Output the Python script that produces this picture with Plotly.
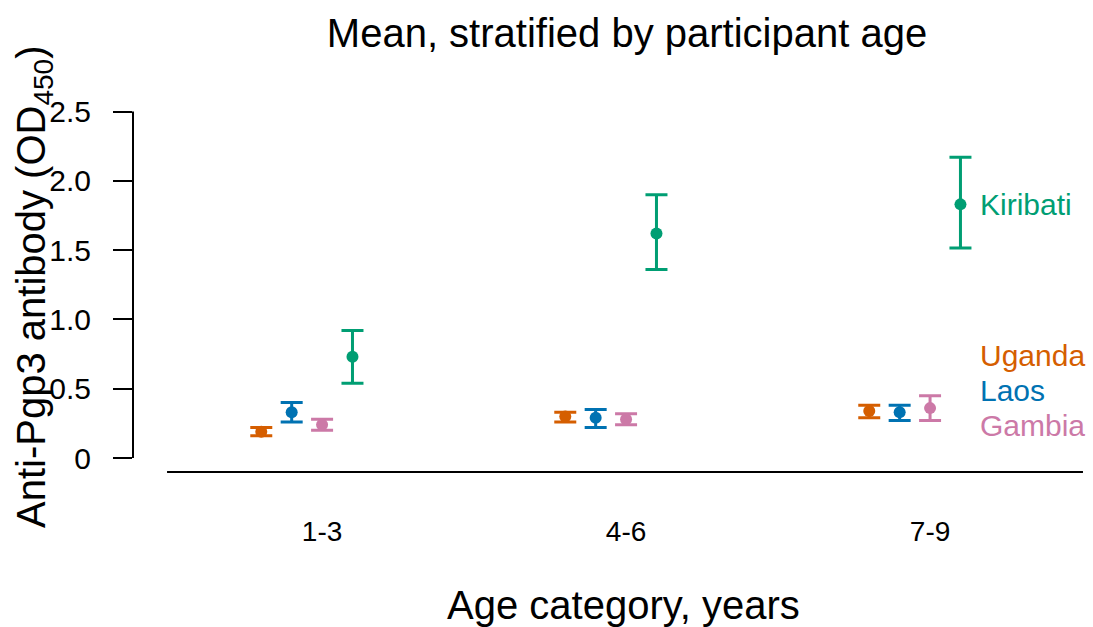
import plotly.graph_objects as go

# ---- data ----
age_groups = ["1-3", "4-6", "7-9"]
countries = ["Uganda", "Laos", "Gambia", "Kiribati"]

uganda_mean = [0.19, 0.30, 0.34]
uganda_lo = [0.16, 0.26, 0.29]
uganda_hi = [0.22, 0.33, 0.38]

laos_mean = [0.33, 0.29, 0.33]
laos_lo = [0.26, 0.22, 0.27]
laos_hi = [0.40, 0.35, 0.38]

gambia_mean = [0.24, 0.28, 0.36]
gambia_lo = [0.20, 0.24, 0.27]
gambia_hi = [0.28, 0.32, 0.45]

kiribati_mean = [0.73, 1.62, 1.83]
kiribati_lo = [0.54, 1.36, 1.515]
kiribati_hi = [0.92, 1.90, 2.17]

y_ticks = [0, 0.5, 1.0, 1.5, 2.0, 2.5]
y_tick_labels = ["0", "0.5", "1.0", "1.5", "2.0", "2.5"]

# ---- styling ----
colors = {"Uganda": "#D55E00", "Laos": "#0072B2", "Gambia": "#CC79A7", "Kiribati": "#009E73"}
offsets = {"Uganda": -0.2, "Laos": -0.1, "Gambia": 0.0, "Kiribati": 0.1}
series = {
    "Uganda": (uganda_mean, uganda_lo, uganda_hi),
    "Laos": (laos_mean, laos_lo, laos_hi),
    "Gambia": (gambia_mean, gambia_lo, gambia_hi),
    "Kiribati": (kiribati_mean, kiribati_lo, kiribati_hi),
}
FONT = "Liberation Sans, Arial, Helvetica, sans-serif"
W, H = 1093, 627
ML, MR, MT, MB = 133, 0, 100, 117
PW, PH = W - ML - MR, H - MT - MB


def px_x(p):
    return (p - ML) / PW


def px_y(p):
    return (H - MB - p) / PH


fig = go.Figure()
base_x = list(range(1, len(age_groups) + 1))
for c in countries:
    m, lo, hi = series[c]
    xs = [b + offsets[c] for b in base_x]
    fig.add_trace(go.Scatter(
        x=xs, y=m, mode="markers",
        marker=dict(color=colors[c], size=12),
        error_y=dict(type="data", symmetric=False,
                     array=[h - v for h, v in zip(hi, m)],
                     arrayminus=[v - l for v, l in zip(m, lo)],
                     color=colors[c], thickness=3, width=11),
        name=c, showlegend=False,
    ))

# country labels at right
label_y = {"Kiribati": kiribati_mean[-1], "Uganda": 0.743, "Laos": 0.49, "Gambia": 0.238}
for c in countries:
    fig.add_annotation(x=3.157, y=label_y[c], xref="x", yref="y", text=c,
                       showarrow=False, xanchor="left", yanchor="middle",
                       font=dict(family=FONT, size=30, color=colors[c]))

# R-style axis lines
fig.add_shape(type="line", xref="paper", yref="y", x0=0, x1=0, y0=0, y1=2.5,
              line=dict(color="black", width=2))
fig.add_shape(type="line", xref="x", yref="y", x0=0.49, x1=3.503, y0=-0.101, y1=-0.101,
              line=dict(color="black", width=2))

# axis titles
fig.add_annotation(x=px_x(34), y=px_y(287), xref="paper", yref="paper",
                   text="Anti-Pgp3 antibody (OD<sub>450</sub>)", textangle=-90,
                   showarrow=False, xanchor="center", yanchor="middle",
                   font=dict(family=FONT, size=40, color="black"))
fig.add_annotation(x=px_x(623), y=px_y(605), xref="paper", yref="paper",
                   text="Age category, years",
                   showarrow=False, xanchor="center", yanchor="middle",
                   font=dict(family=FONT, size=40, color="black"))

fig.update_layout(
    width=W, height=H,
    margin=dict(l=ML, r=MR, t=MT, b=MB),
    paper_bgcolor="white", plot_bgcolor="white",
    title=dict(text="Mean, stratified by participant age", x=627 / W, xanchor="center",
               y=1 - 33 / H, yanchor="middle", yref="container", xref="container",
               font=dict(family=FONT, size=40, color="black")),
    xaxis=dict(range=[0.378, 3.536], showgrid=False, zeroline=False, showline=False,
               tickmode="array", tickvals=base_x, ticktext=age_groups, ticks="",
               tickfont=dict(family=FONT, size=28, color="black"),
               ticklabelstandoff=2),
    yaxis=dict(range=[-0.375, 2.583], showgrid=False, zeroline=False, showline=False,
               tickmode="array", tickvals=y_ticks, ticktext=y_tick_labels,
               ticks="outside", ticklen=19, tickwidth=2, tickcolor="black",
               tickfont=dict(family=FONT, size=30, color="black"),
               ticklabelstandoff=16),
)

fig.write_html("out.html", config={"displayModeBar": False},
               post_script="document.body.style.margin='0px';")
